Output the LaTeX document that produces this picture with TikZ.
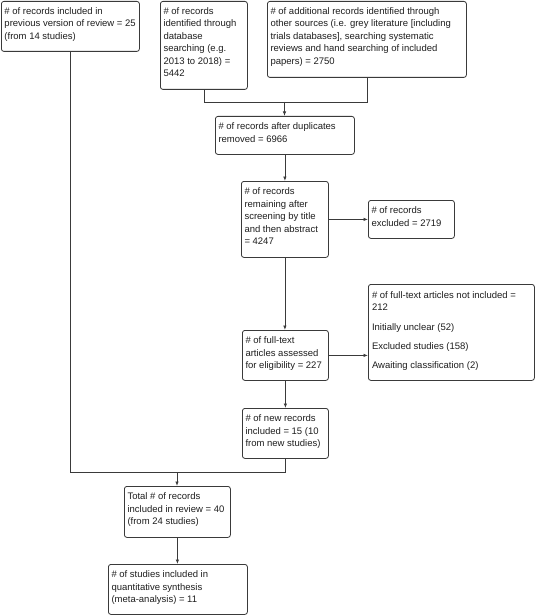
\documentclass[tikz,border=0pt]{standalone}
\usepackage{fontspec}
\setmainfont{Liberation Sans}
\usetikzlibrary{arrows.meta,calc}
\definecolor{linec}{HTML}{3A3A3A}
\definecolor{txtc}{HTML}{1E1E1E}
\newcommand{\fs}{\rule{0pt}{9pt}}
\begin{document}
\begin{tikzpicture}[x=1pt,y=1pt,
  box/.style={draw=linec, line width=0.8pt, rounded corners=2.5pt, inner sep=0pt, anchor=north west},
  txt/.style={anchor=north west, inner sep=0pt, font=\fontsize{9.5}{12.5}\selectfont, text=txtc, align=left},
  ln/.style={draw=linec, line width=0.8pt},
  arr/.style={ln, -{Latex[length=4.5pt,width=3.5pt]}}]
\useasboundingbox (0,0) rectangle (535,-615);
\fill[white] (0,0) rectangle (535,-615);

% boxes
\node[box, minimum width=138pt, minimum height=50pt] (A) at (1,-1) {};
\node[box, minimum width=87pt, minimum height=88pt] (B) at (160,-1) {};
\node[box, minimum width=199pt, minimum height=76pt] (C) at (267,-1) {};
\node[box, minimum width=139pt, minimum height=38pt] (D) at (215,-116) {};
\node[box, minimum width=87pt, minimum height=76pt] (E) at (241,-181) {};
\node[box, minimum width=86pt, minimum height=38pt] (F) at (368,-200) {};
\node[box, minimum width=86pt, minimum height=50pt] (G) at (242,-330) {};
\node[box, minimum width=166pt, minimum height=96pt] (H) at (368,-284) {};
\node[box, minimum width=86pt, minimum height=50pt] (I) at (242,-408) {};
\node[box, minimum width=106pt, minimum height=51pt] (J) at (124,-486) {};
\node[box, minimum width=139pt, minimum height=50pt] (K) at (108,-564) {};

% texts
\node[txt] (At) at ([shift={(3.3pt,-4.3pt)}]A.north west) {\fs\# of records included in\\previous version of review = 25\\(from 14 studies)};
\node[txt] (Bt) at ([shift={(3.3pt,-4.3pt)}]B.north west) {\fs\# of records\\identified through\\database\\searching (e.g.\\2013 to 2018) =\\5442};
\node[txt] (Ct) at ([shift={(3.3pt,-4.3pt)}]C.north west) {\fs\# of additional records identified through\\other sources (i.e. grey literature [including\\trials databases], searching systematic\\reviews and hand searching of included\\papers) = 2750};
\node[txt] (Dt) at ([shift={(3.3pt,-4.3pt)}]D.north west) {\fs\# of records after duplicates\\removed = 6966};
\node[txt] (Et) at ([shift={(3.3pt,-4.3pt)}]E.north west) {\fs\# of records\\remaining after\\screening by title\\and then abstract\\= 4247};
\node[txt] (Ft) at ([shift={(3.3pt,-4.3pt)}]F.north west) {\fs\# of records\\excluded = 2719};
\node[txt] (Gt) at ([shift={(3.3pt,-4.3pt)}]G.north west) {\fs\# of full-text\\articles assessed\\for eligibility = 227};
\node[txt] (Ht) at ([shift={(3.8pt,-5pt)}]H.north west) {\fs\# of full-text articles not included =\\212\\[7.5pt]Initially unclear (52)\\[6.3pt]Excluded studies (158)\\[6.8pt]Awaiting classification (2)};
\node[txt] (It) at ([shift={(3.3pt,-4.3pt)}]I.north west) {\fs\# of new records\\included = 15 (10\\from new studies)};
\node[txt] (Jt) at ([shift={(3.3pt,-4.3pt)}]J.north west) {\fs Total \# of records\\included in review = 40\\(from 24 studies)};
\node[txt] (Kt) at ([shift={(3.3pt,-4.3pt)}]K.north west) {\fs\# of studies included in\\quantitative synthesis\\(meta-analysis) = 11};

% connectors
\coordinate (m1) at (284.5,-102);
\draw[ln] (B.south) |- (m1);
\draw[ln] (C.south) |- (m1);
\draw[arr] (m1) -- (m1 |- D.north);
\draw[arr] (D.south) -- (D.south |- E.north);
\draw[arr] (E.east) -- (F.west |- E.east);
\draw[arr] (E.south) -- (E.south |- G.north);
\draw[arr] (G.east) -- (H.west |- G.east);
\draw[arr] (G.south) -- (G.south |- I.north);
\coordinate (m2) at (177,-472);
\draw[ln] (A.south) |- (m2);
\draw[ln] (I.south) |- (m2);
\draw[arr] (m2) -- (m2 |- J.north);
\draw[arr] (J.south) -- (J.south |- K.north);
\end{tikzpicture}
\end{document}
